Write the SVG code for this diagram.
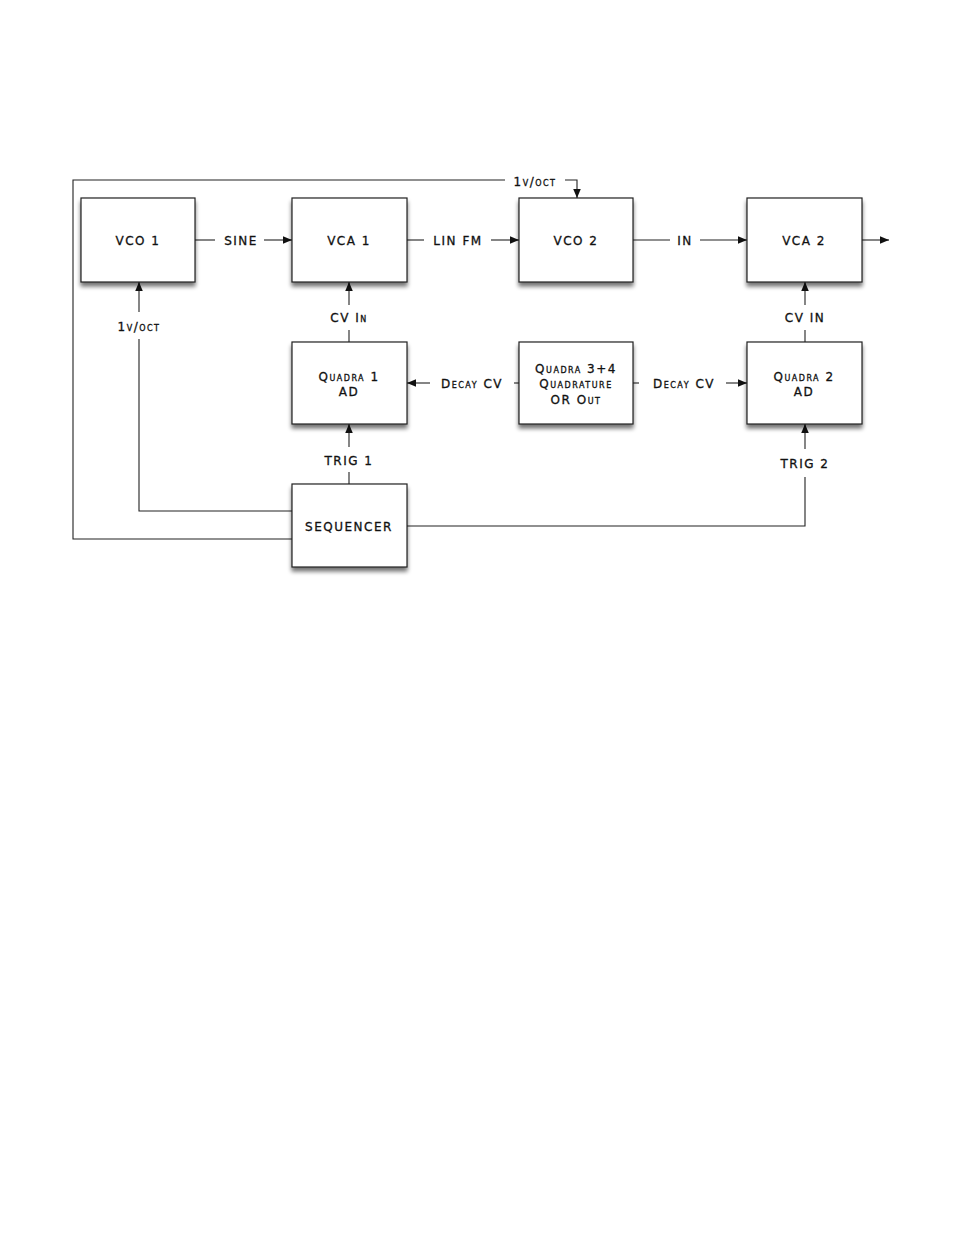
<svg xmlns="http://www.w3.org/2000/svg" width="954" height="1235" viewBox="0 0 954 1235">
<style>
.box{fill:#fff;stroke:#222;stroke-width:1.2}
.ln{fill:none;stroke:#222;stroke-width:1.1}
text{font-family:"DejaVu Sans","Liberation Sans",sans-serif;font-size:12px;font-weight:normal;fill:#111;stroke:#111;stroke-width:0.3;text-anchor:middle;font-variant:small-caps;letter-spacing:1.5px}
</style>
<defs>
<filter id="sh" x="-20%" y="-20%" width="140%" height="150%">
<feGaussianBlur in="SourceAlpha" stdDeviation="2.2"/>
<feOffset dx="0" dy="3.5" result="b"/>
<feComponentTransfer><feFuncA type="linear" slope="0.55"/></feComponentTransfer>
<feMerge><feMergeNode/><feMergeNode in="SourceGraphic"/></feMerge>
</filter>
<marker id="ah" viewBox="0 0 10 10" refX="10" refY="5" markerWidth="9" markerHeight="9" markerUnits="userSpaceOnUse" orient="auto">
<path d="M0,0.8 L10,5 L0,9.2 z" fill="#111"/>
</marker>
</defs>
<rect width="954" height="1235" fill="#fff"/>
<g id="connectors">
<path class="ln" d="M195,240 H215"/>
<path class="ln" d="M264,240 H292" marker-end="url(#ah)"/>
<text x="241" y="244.5">SINE</text>
<path class="ln" d="M407,240 H424"/>
<path class="ln" d="M491,240 H519" marker-end="url(#ah)"/>
<text x="458" y="244.5">LIN FM</text>
<path class="ln" d="M633,240 H670"/>
<path class="ln" d="M700,240 H747" marker-end="url(#ah)"/>
<text x="685" y="244.5">IN</text>
<path class="ln" d="M862,240 H889" marker-end="url(#ah)"/>
<path class="ln" d="M349,342 V330"/>
<path class="ln" d="M349,305 V282" marker-end="url(#ah)"/>
<text x="349" y="321.5">CV In</text>
<path class="ln" d="M805,342 V330"/>
<path class="ln" d="M805,305 V282" marker-end="url(#ah)"/>
<text x="805" y="321.5">CV IN</text>
<path class="ln" d="M349,484 V472"/>
<path class="ln" d="M349,447 V424" marker-end="url(#ah)"/>
<text x="349" y="464.5">TRIG 1</text>
<path class="ln" d="M407,526 H805 V477"/>
<path class="ln" d="M805,449 V424" marker-end="url(#ah)"/>
<text x="805" y="467.5">TRIG 2</text>
<path class="ln" d="M519,383 H514"/>
<path class="ln" d="M430,383 H407" marker-end="url(#ah)"/>
<text x="472" y="387.5">Decay CV</text>
<path class="ln" d="M633,383 H639"/>
<path class="ln" d="M726,383 H747" marker-end="url(#ah)"/>
<text x="684" y="387.5">Decay CV</text>
<path class="ln" d="M292,511 H139 V339"/>
<path class="ln" d="M139,312 V282" marker-end="url(#ah)"/>
<text x="139" y="330.5">1v/oct</text>
<path class="ln" d="M292,539 H73 V180 H505"/>
<path class="ln" d="M565,180 H577 V198" marker-end="url(#ah)"/>
<text x="535" y="185.5">1v/oct</text>
</g>
<g id="vco1"><rect class="box" x="81" y="198" width="114" height="84" filter="url(#sh)"/><text x="138" y="244.5">VCO 1</text></g>
<g id="vca1"><rect class="box" x="292" y="198" width="115" height="84" filter="url(#sh)"/><text x="349" y="244.5">VCA 1</text></g>
<g id="vco2"><rect class="box" x="519" y="198" width="114" height="84" filter="url(#sh)"/><text x="576" y="244.5">VCO 2</text></g>
<g id="vca2"><rect class="box" x="747" y="198" width="115" height="84" filter="url(#sh)"/><text x="804" y="244.5">VCA 2</text></g>
<g id="quadra1"><rect class="box" x="292" y="342" width="115" height="82" filter="url(#sh)"/><text x="349" y="380.5">Quadra 1</text><text x="349" y="395.5">AD</text></g>
<g id="quadra34"><rect class="box" x="519" y="342" width="114" height="82" filter="url(#sh)"/><text x="576" y="372.5">Quadra 3+4</text><text x="576" y="387.5">Quadrature</text><text x="576" y="403.5">OR Out</text></g>
<g id="quadra2"><rect class="box" x="747" y="342" width="115" height="82" filter="url(#sh)"/><text x="804" y="380.5">Quadra 2</text><text x="804" y="395.5">AD</text></g>
<g id="sequencer"><rect class="box" x="292" y="484" width="115" height="83" filter="url(#sh)"/><text x="349" y="530.5">SEQUENCER</text></g>
</svg>
